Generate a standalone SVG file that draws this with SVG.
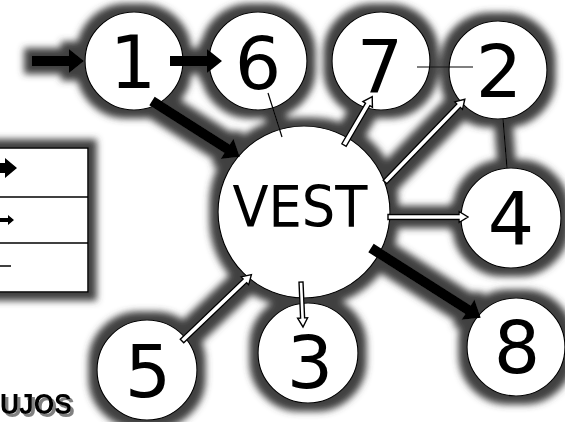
<svg xmlns="http://www.w3.org/2000/svg" width="565" height="422" viewBox="0 0 565 422">
<defs>
<filter id="halo" filterUnits="userSpaceOnUse" x="-30" y="-30" width="625" height="482">
<feMorphology in="SourceAlpha" operator="dilate" radius="8" result="d"/>
<feGaussianBlur in="d" stdDeviation="3.5" result="b"/>
<feFlood flood-color="#404040"/>
<feComposite in2="b" operator="in" result="s"/>
<feMerge><feMergeNode in="s"/><feMergeNode in="SourceGraphic"/></feMerge>
</filter>
<filter id="tshadow" filterUnits="userSpaceOnUse" x="-10" y="380" width="120" height="50">
<feOffset in="SourceAlpha" dx="3" dy="3" result="o"/>
<feFlood flood-color="#808080"/>
<feComposite in2="o" operator="in" result="s"/>
<feMerge><feMergeNode in="s"/><feMergeNode in="SourceGraphic"/></feMerge>
</filter>
<style>
.node circle{fill:#fff;stroke:#000;stroke-width:1.2}
.num{font-family:"DejaVu Sans",Verdana,sans-serif;font-size:73px;fill:#000;text-anchor:middle}
.thick{fill:#000}
.med{fill:#fff;stroke:#000;stroke-width:1.4;stroke-linejoin:miter}
.ln{stroke:#000;stroke-width:1.2;fill:none}
.title{font-family:"Liberation Sans",Arial,sans-serif;font-weight:bold;font-size:29px}
</style>
</defs>
<rect width="565" height="422" fill="#fff"/>
<g filter="url(#halo)">
<g id="legend">
<rect x="-10" y="148" width="98" height="144" fill="#fff" stroke="#000" stroke-width="1.5"/>
<line x1="-10" y1="197" x2="88" y2="197" stroke="#000" stroke-width="1.5"/>
<line x1="-10" y1="243" x2="88" y2="243" stroke="#000" stroke-width="1.5"/>
<polygon points="-5,163 5,163 5,158 17,168 5,178 5,173 -5,173" fill="#000"/>
<polygon points="-5,218 8,218 8,215 14,220 8,225 8,222 -5,222" fill="#000"/>
<line x1="-5" y1="266" x2="11" y2="266" stroke="#000" stroke-width="1.5"/>
</g>
<g id="node-1" class="node"><circle cx="134" cy="61" r="49"/><text class="num" x="133" y="88">1</text></g>
<g id="node-6" class="node"><circle cx="258" cy="61" r="49"/><text class="num" x="258" y="89">6</text></g>
<g id="node-7" class="node"><circle cx="381" cy="61" r="49"/><text class="num" x="380" y="92">7</text></g>
<g id="node-2" class="node"><circle cx="498" cy="70" r="49"/><text class="num" x="499" y="97">2</text></g>
<g id="node-vest" class="node"><circle cx="304" cy="212" r="86"/><text x="300" y="227" font-family="DejaVu Sans, Verdana, sans-serif" font-size="57" text-anchor="middle" textLength="135" lengthAdjust="spacingAndGlyphs">VEST</text></g>
<g id="node-4" class="node"><circle cx="511" cy="218" r="50"/><text class="num" x="511" y="245">4</text></g>
<g id="node-8" class="node"><circle cx="516" cy="347" r="49"/><text class="num" x="517" y="373">8</text></g>
<g id="node-3" class="node"><circle cx="308" cy="353" r="50"/><text class="num" x="310" y="388">3</text></g>
<g id="node-5" class="node"><circle cx="147" cy="370" r="50"/><text class="num" x="148" y="397">5</text></g>
<g id="connectors">
<line class="ln" x1="268" y1="93" x2="282" y2="137"/>
<line class="ln" x1="417" y1="67" x2="473" y2="67"/>
<line class="ln" x1="503" y1="119" x2="507" y2="168"/>
<polygon class="thick" transform="translate(32,61)" points="0,-5 37,-5 37,-12 52,0 37,12 37,5 0,5"/>
<polygon class="thick" transform="translate(170,61)" points="0,-5 37,-5 37,-12 52,0 37,12 37,5 0,5"/>
<polygon class="thick" transform="translate(152,101) rotate(32.47)" points="0,-5 89,-5 89,-12 104,0 89,12 89,5 0,5"/>
<polygon class="thick" transform="translate(371,248) rotate(32.47)" points="0,-5 115,-5 115,-12 130,0 115,12 115,5 0,5"/>
<polygon class="med" transform="translate(344,145) rotate(-59.74)" points="0,-2.5 47,-2.5 47,-5.5 56,0 47,5.5 47,2.5 0,2.5"/>
<polygon class="med" transform="translate(385,182) rotate(-46.05)" points="0,-2.5 106,-2.5 106,-5.5 115,0 106,5.5 106,2.5 0,2.5"/>
<polygon class="med" transform="translate(388,217)" points="0,-2.5 71,-2.5 71,-5.5 80,0 71,5.5 71,2.5 0,2.5"/>
<polygon class="med" transform="translate(301,282) rotate(87.46)" points="0,-2 36,-2 36,-5 45,0 36,5 36,2 0,2"/>
<polygon class="med" transform="translate(182,341) rotate(-43.73)" points="0,-2.5 87,-2.5 87,-5.5 96,0 87,5.5 87,2.5 0,2.5"/>
</g>
</g>
<g id="caption" filter="url(#tshadow)">
<text class="title" x="0" y="414" fill="#000" textLength="72" lengthAdjust="spacingAndGlyphs">UJOS</text>
</g>
</svg>
